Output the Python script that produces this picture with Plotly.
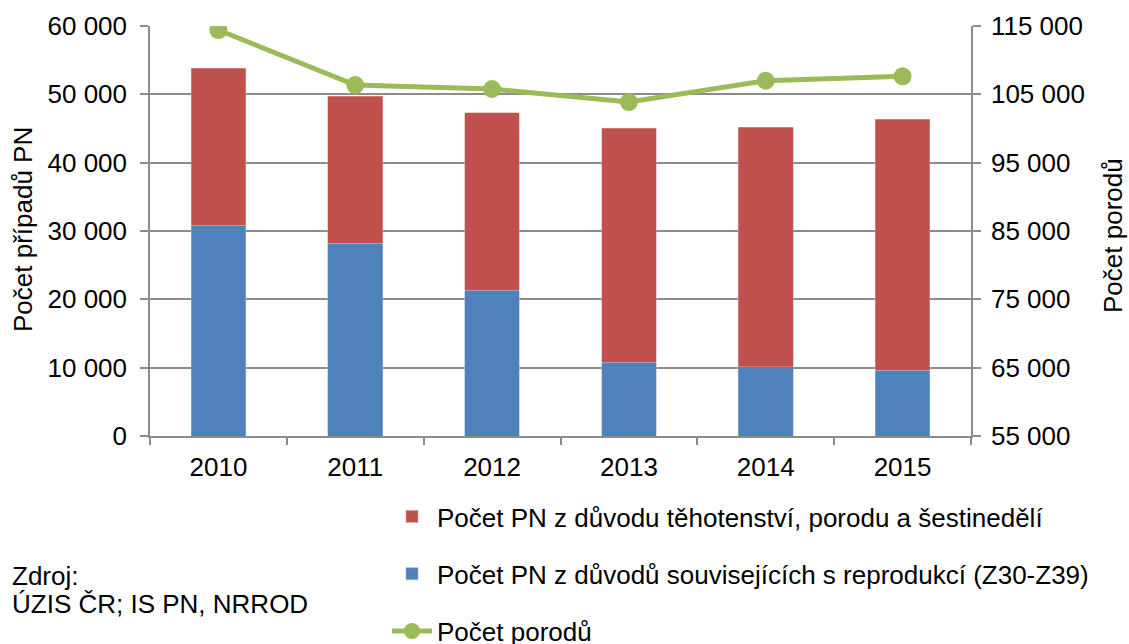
import plotly.graph_objects as go

years = ["2010", "2011", "2012", "2013", "2014", "2015"]
pn_reprodukce = [30860, 28230, 21350, 10760, 10120, 9630]
pn_tehotenstvi = [22940, 21470, 25950, 34310, 35090, 36710]
porody = [114410, 106360, 105780, 103870, 106990, 107640]

left_ticks = [0, 10000, 20000, 30000, 40000, 50000, 60000]
right_ticks = [55000, 65000, 75000, 85000, 95000, 105000, 115000]

name_red = "Počet PN z důvodu těhotenství, porodu a šestinedělí"
name_blue = "Počet PN z důvodů souvisejících s reprodukcí (Z30-Z39)"
name_green = "Počet porodů"
title_left = "Počet případů PN"
title_right = "Počet porodů"
source_lines = ["Zdroj:", "ÚZIS ČR; IS PN, NRROD"]

FONT = "Liberation Sans, Arial, sans-serif"
FS = 26
GRID = "#8c8c8c"

W, H = 1129, 644
L, R, T, B = 150, 158, 26, 208
PW, PH = W - L - R, H - T - B

fig = go.Figure()
fig.add_trace(go.Bar(
    x=years, y=pn_reprodukce, name=name_blue,
    marker=dict(color="#4F81BD", line=dict(color="#9fb8d9", width=0.5)),
    legendgroup="b", legendrank=2,
))
fig.add_trace(go.Bar(
    x=years, y=pn_tehotenstvi, name=name_red,
    marker=dict(color="#C0504D", line=dict(color="#e0a09e", width=0.5)),
    legendgroup="a", legendrank=1,
))
fig.add_trace(go.Scatter(
    x=years, y=porody, name=name_green, yaxis="y2", mode="lines+markers",
    line=dict(color="#9BBB59", width=5), marker=dict(color="#9BBB59", size=18),
    legendgroup="c", legendrank=3,
))

annotations = [
    dict(text=title_left, xref="paper", yref="paper", x=(23 - L) / PW, y=(H - B - 230) / PH,
         xanchor="center", yanchor="middle", textangle=-90, showarrow=False,
         font=dict(size=FS)),
    dict(text=title_right, xref="paper", yref="paper", x=(1113 - L) / PW, y=(H - B - 236) / PH,
         xanchor="center", yanchor="middle", textangle=-90, showarrow=False,
         font=dict(size=FS)),
]
for line, yc in zip(source_lines, [576, 604]):
    annotations.append(dict(
        text=line, xref="paper", yref="paper", x=(10 - L) / PW, y=(H - B - yc) / PH,
        xanchor="left", yanchor="middle", align="left", showarrow=False,
        font=dict(size=FS),
    ))

fig.update_layout(
    width=W, height=H,
    barmode="stack", bargap=0.6,
    separators=", ",
    plot_bgcolor="white", paper_bgcolor="white",
    font=dict(family=FONT, size=FS, color="black"),
    margin=dict(l=L, r=R, t=T, b=B, autoexpand=False),
    xaxis=dict(
        type="category", showline=True, linecolor=GRID, linewidth=1.5,
        ticks="outside", tickson="boundaries", ticklen=7, tickcolor=GRID, tickwidth=1.5,
        showgrid=False, ticklabelstandoff=7,
    ),
    yaxis=dict(
        range=[0, 60000], tickvals=left_ticks, tickformat=",d",
        showline=True, linecolor=GRID, linewidth=1.5,
        ticks="outside", ticklen=8, tickcolor=GRID, tickwidth=1.5,
        showgrid=True, gridcolor=GRID, gridwidth=1.5, zeroline=False,
        ticklabelstandoff=8,
    ),
    yaxis2=dict(
        range=[55000, 115000], tickvals=right_ticks, tickformat=",d",
        overlaying="y", side="right",
        showline=True, linecolor=GRID, linewidth=1.5,
        ticks="outside", ticklen=8, tickcolor=GRID, tickwidth=1.5,
        showgrid=False, zeroline=False,
        ticklabelstandoff=5,
    ),
    legend=dict(
        orientation="v", xref="container", yref="container",
        x=387 / W, y=1 - 493 / H, xanchor="left", yanchor="top",
        tracegroupgap=20.5, font=dict(size=FS), bgcolor="rgba(0,0,0,0)",
        itemwidth=40,
    ),
    showlegend=True,
    annotations=annotations,
)

fig.write_html(
    "out.html",
    config={"displayModeBar": False},
    post_script="document.body.style.margin='0';document.body.style.overflow='hidden';",
)
